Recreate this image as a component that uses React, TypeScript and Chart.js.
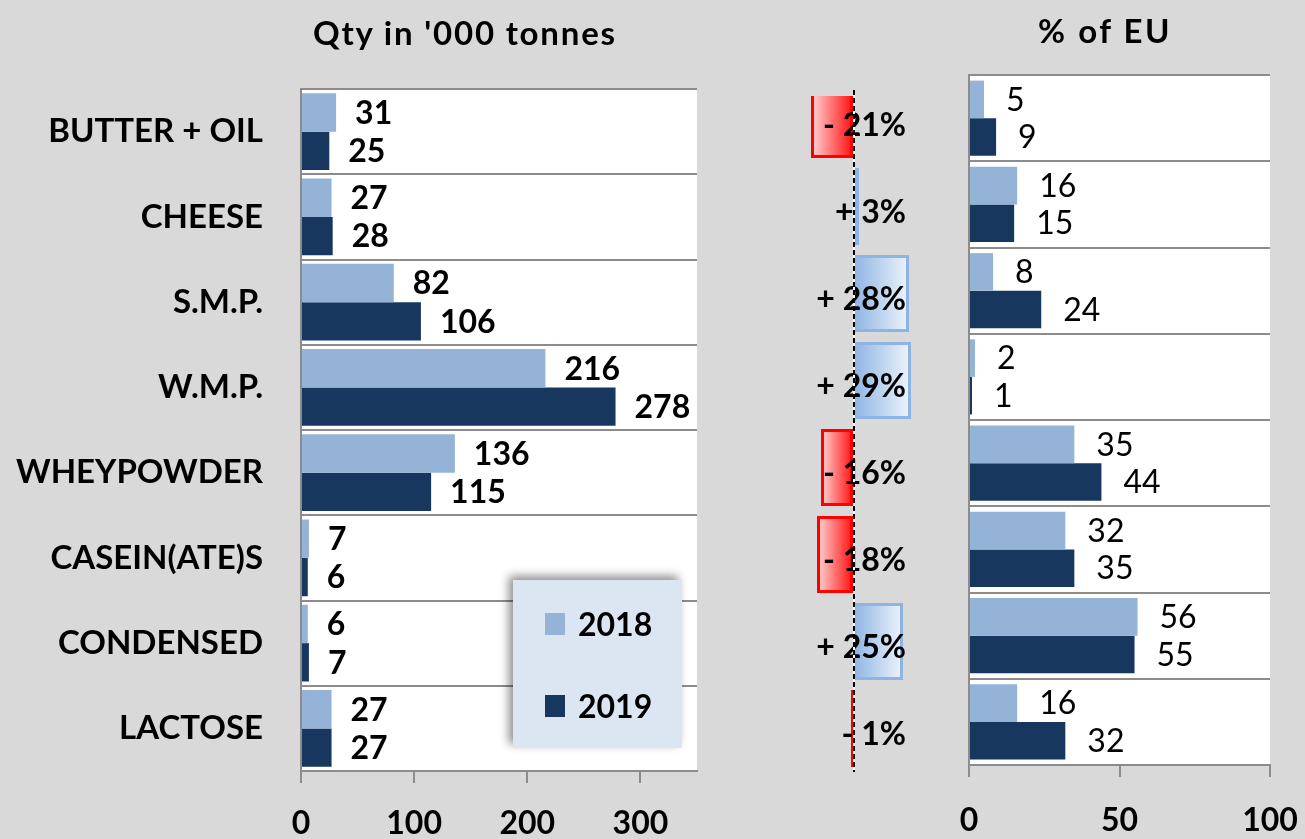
import React, { useEffect, useRef } from 'react';
import { Chart, registerables } from 'chart.js';
Chart.register(...registerables);

const categories = ['BUTTER + OIL', 'CHEESE', 'S.M.P.', 'W.M.P.', 'WHEYPOWDER', 'CASEIN(ATE)S', 'CONDENSED', 'LACTOSE'];
const qty2018 = [31, 27, 82, 216, 136, 7, 6, 27];
const qty2019 = [25, 28, 106, 278, 115, 6, 7, 27];
const changePct = [-21, 3, 28, 29, -16, -18, 25, -1];
const share2018 = [5, 16, 8, 2, 35, 32, 56, 16];
const share2019 = [9, 15, 24, 1, 44, 35, 55, 32];
const qtyTicks = [0, 100, 200, 300];
const shareTicks = [0, 50, 100];
const seriesNames = ['2018', '2019'];

const W = 1305;
const H = 839;
const FONT = 'Lato';
const C2018 = '#95b3d7';
const C2019 = '#17375e';
const GRID = '#8c8c8c';

const plotBg = {
  id: 'plotBg',
  beforeDraw(chart: any) {
    const { ctx, chartArea: a } = chart;
    ctx.save();
    ctx.fillStyle = '#ffffff';
    ctx.fillRect(a.left, a.top, a.right - a.left, a.bottom - a.top);
    ctx.restore();
  },
};

const makeValueLabels = (weight: string, offset: number) => ({
  id: 'valueLabels',
  afterDatasetsDraw(chart: any) {
    const ctx = chart.ctx;
    ctx.save();
    ctx.font = `${weight} 32px ${FONT}`;
    ctx.fillStyle = '#000';
    ctx.textAlign = 'left';
    ctx.textBaseline = 'middle';
    chart.data.datasets.forEach((ds: any, i: number) => {
      const meta = chart.getDatasetMeta(i);
      meta.data.forEach((el: any, j: number) => {
        ctx.fillText(String(ds.data[j]), el.x + offset, el.y + 1);
      });
    });
    ctx.restore();
  },
});

const changeDecor = {
  id: 'changeDecor',
  afterDatasetsDraw(chart: any) {
    const ctx = chart.ctx;
    const x0 = chart.scales.x.getPixelForValue(0);
    const meta = chart.getDatasetMeta(0);
    const ds = chart.data.datasets[0];
    ctx.save();
    ctx.font = `bold 32px ${FONT}`;
    ctx.fillStyle = '#000';
    ctx.textAlign = 'right';
    ctx.textBaseline = 'middle';
    meta.data.forEach((el: any, j: number) => {
      const v = ds.data[j];
      const txt = v < 0 ? `- ${Math.abs(v)}%` : `+ ${v}%`;
      ctx.fillText(txt, x0 + 53, el.y + 6);
    });
    const lx = x0 + 1;
    const top = chart.chartArea.top + 14;
    const bottom = chart.chartArea.bottom;
    ctx.strokeStyle = '#ffffff';
    ctx.lineWidth = 2;
    ctx.beginPath();
    ctx.moveTo(lx, top);
    ctx.lineTo(lx, bottom);
    ctx.stroke();
    ctx.strokeStyle = '#000000';
    ctx.lineWidth = 2;
    ctx.setLineDash([5, 3]);
    ctx.beginPath();
    ctx.moveTo(lx, top);
    ctx.lineTo(lx, bottom);
    ctx.stroke();
    ctx.restore();
  },
};

const tickFont = { family: FONT, size: 32, weight: 'bold' as const };
const catFont = { family: FONT, size: 33, weight: 'bold' as const };
const noPad = (s: any) => {
  s.paddingLeft = 0;
  s.paddingRight = 0;
};

export default function App() {
  const leftRef = useRef<HTMLCanvasElement>(null);
  const midRef = useRef<HTMLCanvasElement>(null);
  const rightRef = useRef<HTMLCanvasElement>(null);

  useEffect(() => {
    const charts: Chart[] = [];

    charts.push(
      new Chart(leftRef.current as HTMLCanvasElement, {
        type: 'bar',
        data: {
          labels: categories,
          datasets: [
            { label: seriesNames[0], data: qty2018, backgroundColor: C2018, categoryPercentage: 0.9, barPercentage: 1 },
            { label: seriesNames[1], data: qty2019, backgroundColor: C2019, categoryPercentage: 0.9, barPercentage: 1 },
          ],
        },
        options: {
          indexAxis: 'y',
          responsive: false,
          animation: false,
          events: [],
          layout: { padding: { left: 0, top: 89, right: W - 697, bottom: 0 } },
          plugins: { legend: { display: false }, tooltip: { enabled: false } },
          scales: {
            x: {
              min: 0,
              max: 350,
              grid: { drawOnChartArea: false, drawTicks: true, tickLength: 12, color: GRID, lineWidth: 2 },
              border: { color: GRID, width: 2 },
              ticks: { font: tickFont, color: '#000', padding: 21, maxRotation: 0, stepSize: 100 },
              afterBuildTicks: (s: any) => { s.ticks = qtyTicks.map((v) => ({ value: v })); },
              afterFit: (s: any) => { s.height = 68; noPad(s); },
            },
            y: {
              grid: { color: GRID, lineWidth: 2, drawTicks: false, offset: true },
              border: { color: GRID, width: 2 },
              ticks: { font: catFont, color: '#000', padding: 38, autoSkip: false },
              afterFit: (s: any) => { s.width = 301; },
            },
          },
        } as any,
        plugins: [plotBg, makeValueLabels('bold', 19)],
      })
    );

    charts.push(
      new Chart(midRef.current as HTMLCanvasElement, {
        type: 'bar',
        data: {
          labels: categories,
          datasets: [
            {
              label: 'change',
              data: changePct,
              backgroundColor: (c: any) => {
                const chart = c.chart;
                const xs = chart.scales && chart.scales.x;
                const v = c.raw as number;
                const fallback = v < 0 ? '#ff6060' : '#c0d5ee';
                if (!xs || typeof v !== 'number') return fallback;
                const p0 = xs.getPixelForValue(0);
                const p1 = xs.getPixelForValue(v);
                if (!isFinite(p0) || !isFinite(p1)) return fallback;
                const l = Math.min(p0, p1);
                const r = Math.max(p0, p1) + 0.01;
                const g = chart.ctx.createLinearGradient(l, 0, r, 0);
                if (v < 0) {
                  g.addColorStop(0, '#ffd6d6');
                  g.addColorStop(1, '#ff1010');
                } else {
                  g.addColorStop(0, '#8db4e2');
                  g.addColorStop(1, '#eef4fb');
                }
                return g;
              },
              borderColor: (c: any) => ((c.raw as number) < 0 ? '#ff0000' : '#8db4e2'),
              borderWidth: 3,
              borderSkipped: false,
              categoryPercentage: 0.885,
              barPercentage: 1,
              clip: { left: false, top: -20, right: false, bottom: false },
            } as any,
          ],
        },
        options: {
          indexAxis: 'y',
          responsive: false,
          animation: false,
          events: [],
          layout: { padding: { left: 783, top: 76, right: W - 933, bottom: H - 772 } },
          plugins: { legend: { display: false }, tooltip: { enabled: false } },
          scales: {
            x: { display: false, min: -35, max: 40 },
            y: { display: false },
          },
        } as any,
        plugins: [changeDecor],
      })
    );

    charts.push(
      new Chart(rightRef.current as HTMLCanvasElement, {
        type: 'bar',
        data: {
          labels: categories,
          datasets: [
            { label: seriesNames[0], data: share2018, backgroundColor: C2018, categoryPercentage: 0.87, barPercentage: 1 },
            { label: seriesNames[1], data: share2019, backgroundColor: C2019, categoryPercentage: 0.87, barPercentage: 1 },
          ],
        },
        options: {
          indexAxis: 'y',
          responsive: false,
          animation: false,
          events: [],
          layout: { padding: { left: 0, top: 75, right: W - 1270, bottom: 0 } },
          plugins: { legend: { display: false }, tooltip: { enabled: false } },
          scales: {
            x: {
              min: 0,
              max: 100,
              grid: { drawOnChartArea: false, drawTicks: true, tickLength: 12, color: GRID, lineWidth: 2 },
              border: { color: GRID, width: 2 },
              ticks: { font: tickFont, color: '#000', padding: 24, maxRotation: 0, stepSize: 50 },
              afterBuildTicks: (s: any) => { s.ticks = shareTicks.map((v) => ({ value: v })); },
              afterFit: (s: any) => { s.height = H - 765; noPad(s); },
            },
            y: {
              grid: { color: GRID, lineWidth: 2, drawTicks: false, offset: true },
              border: { color: GRID, width: 2 },
              ticks: { display: false },
              afterFit: (s: any) => { s.width = 969; },
            },
          },
        } as any,
        plugins: [plotBg, makeValueLabels('normal', 22)],
      })
    );

    return () => charts.forEach((c) => c.destroy());
  }, []);

  const canvasStyle: React.CSSProperties = { position: 'absolute', left: 0, top: 0, width: W, height: H };
  const textStyle = (cx: number, cy: number, spacing: number): React.CSSProperties => ({
    position: 'absolute',
    left: cx,
    top: cy,
    transform: 'translate(-50%, -50%)',
    fontFamily: FONT,
    fontWeight: 'bold',
    fontSize: 33,
    lineHeight: 1,
    letterSpacing: spacing,
    whiteSpace: 'nowrap',
    color: '#000',
  });
  const legendItem = (top: number, color: string, label: string) => (
    <div style={{ position: 'absolute', left: 32, top, height: 24, display: 'flex', alignItems: 'center' }}>
      <div style={{ width: 20, height: 22, background: color }} />
      <div style={{ marginLeft: 13, fontFamily: FONT, fontWeight: 'bold', fontSize: 32, lineHeight: 1, color: '#000' }}>{label}</div>
    </div>
  );

  return (
    <div style={{ position: 'fixed', left: 0, top: 0, width: W, height: H, background: '#d9d9d9', overflow: 'hidden' }}>
      <canvas ref={leftRef} width={W} height={H} style={canvasStyle} />
      <canvas ref={midRef} width={W} height={H} style={canvasStyle} />
      <canvas ref={rightRef} width={W} height={H} style={canvasStyle} />
      <div style={textStyle(465, 32, 1.8)}>Qty in '000 tonnes</div>
      <div style={textStyle(1105, 30, 2.5)}>% of EU</div>
      <div
        style={{
          position: 'absolute',
          left: 513,
          top: 580,
          width: 169,
          height: 168,
          background: '#dce6f2',
          boxShadow: '-4px -4px 9px rgba(0,0,0,0.45)',
        }}
      >
        {legendItem(32, C2018, seriesNames[0])}
        {legendItem(114, C2019, seriesNames[1])}
      </div>
    </div>
  );
}
